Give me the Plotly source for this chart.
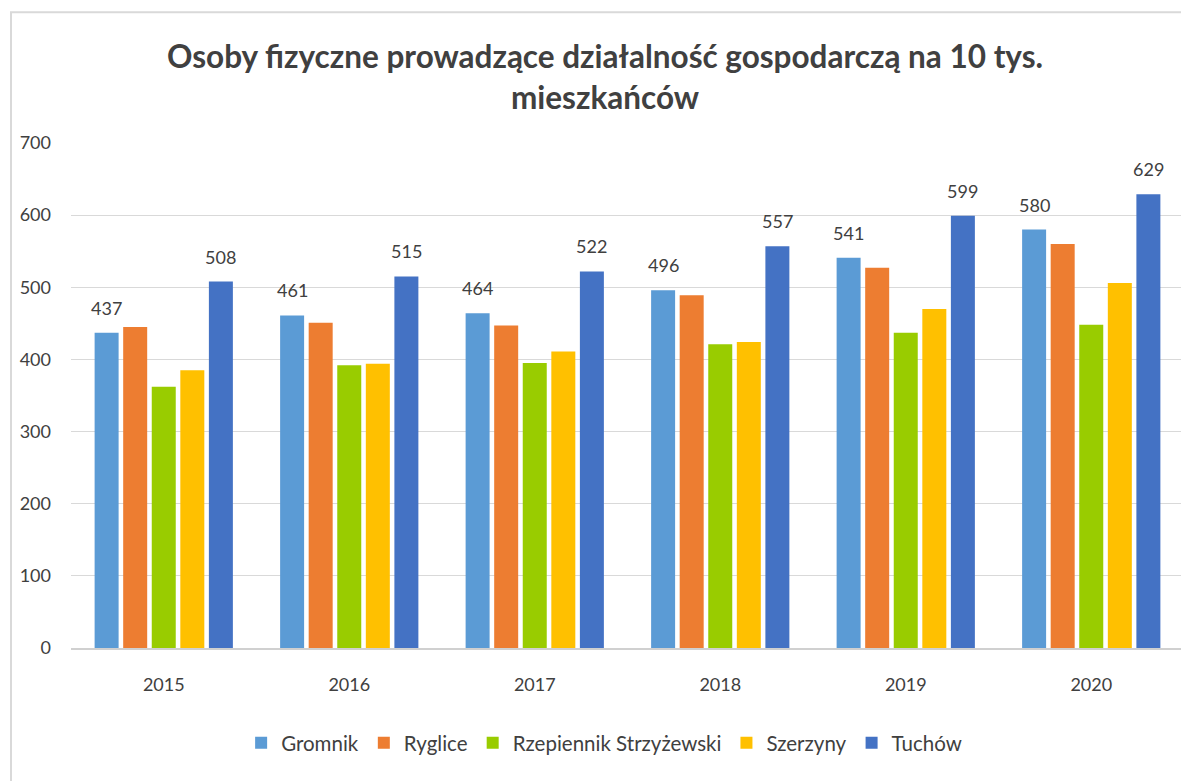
import plotly.graph_objects as go

years = ["2015", "2016", "2017", "2018", "2019", "2020"]
gromnik = [437, 461, 464, 496, 541, 580]
ryglice = [445, 451, 447, 489, 527, 560]
rzepiennik = [362, 392, 395, 421, 437, 448]
szerzyny = [385, 394, 411, 424, 470, 506]
tuchow = [508, 515, 522, 557, 599, 629]

series_names = ["Gromnik", "Ryglice", "Rzepiennik Strzyżewski", "Szerzyny", "Tuchów"]
series_values = [gromnik, ryglice, rzepiennik, szerzyny, tuchow]
colors = ["#5B9BD5", "#ED7D31", "#99CC00", "#FFC000", "#4472C4"]
labelled = {"Gromnik": -57, "Tuchów": 57}

FONT = "Lato, Calibri, 'Open Sans', sans-serif"
TXT = "#404040"

fig = go.Figure()
for name, vals, col in zip(series_names, series_values, colors):
    fig.add_trace(go.Bar(x=years, y=vals, name=name, marker_color=col,
                         marker_line_width=0, hoverinfo="x+y+name"))

annotations = []
for name, vals in zip(series_names, series_values):
    if name in labelled:
        for i, v in enumerate(vals):
            annotations.append(dict(x=i, y=v, xref="x", yref="y", text=str(v),
                                    showarrow=False, xshift=labelled[name], yshift=25,
                                    font=dict(family=FONT, size=18, color=TXT)))

fig.update_layout(
    width=1181, height=773,
    paper_bgcolor="white", plot_bgcolor="white",
    margin=dict(l=63, r=5, t=135, b=133, autoexpand=False),
    barmode="group", bargap=0.23, bargroupgap=0.16,
    title=dict(text="Osoby fizyczne prowadzące działalność gospodarczą na 10 tys.<br>mieszkańców",
               x=0.5055, xanchor="center", y=0.9224, yanchor="middle",
               font=dict(family=FONT, size=31.5, color=TXT, weight="bold")),
    font=dict(family=FONT, color=TXT),
    legend=dict(orientation="h", x=0.479, xanchor="center", y=-0.188, yanchor="middle",
                font=dict(family=FONT, size=20.5, color=TXT), itemwidth=30,
                traceorder="normal", itemclick=False),
    annotations=annotations,
    shapes=[dict(type="rect", xref="paper", yref="paper", x0=-0.0539, x1=1.02,
                 y0=-0.3, y1=1.259, line=dict(color="#d9d9d9", width=2),
                 fillcolor="rgba(0,0,0,0)", layer="below")],
)
fig.update_yaxes(range=[0, 700], dtick=100, showgrid=True, gridcolor="#d9d9d9",
                 gridwidth=1, zeroline=False, showline=False,
                 tickfont=dict(family=FONT, size=18, color=TXT), ticklabelstandoff=19)
fig.update_xaxes(type="category", categoryorder="array", categoryarray=years,
                 range=[-0.5, len(years) - 0.5], showline=True, linecolor="#d0d0d0",
                 linewidth=2, showgrid=False, tickfont=dict(family=FONT, size=18, color=TXT),
                 ticks="", ticklabelstandoff=19)

fig.write_html("out.html")
